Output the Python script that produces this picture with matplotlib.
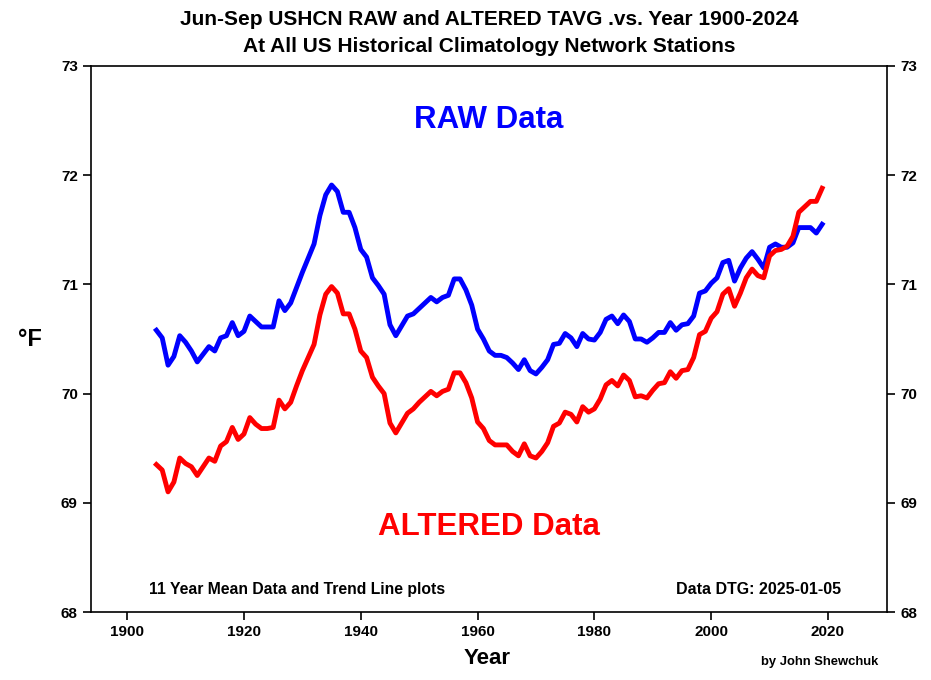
import numpy as np
import matplotlib
matplotlib.use("Agg")
import matplotlib.pyplot as plt

plt.rcParams['font.family'] = ['Liberation Sans', 'DejaVu Sans']
plt.rcParams['font.weight'] = 'bold'

# 11-year running means, one value per year 1905-2019
years = np.arange(1905, 2020)

raw_tavg = [
    70.58, 70.51, 70.26, 70.34, 70.53,                                  # 1905-1909
    70.47, 70.39, 70.29, 70.36, 70.43, 70.39, 70.51, 70.53, 70.65, 70.53,  # 1910s
    70.57, 70.71, 70.66, 70.61, 70.61, 70.61, 70.85, 70.76, 70.83, 70.97,  # 1920s
    71.11, 71.24, 71.37, 71.63, 71.82, 71.91, 71.85, 71.66, 71.66, 71.52,  # 1930s
    71.32, 71.25, 71.06, 70.99, 70.91, 70.63, 70.53, 70.62, 70.71, 70.73,  # 1940s
    70.78, 70.83, 70.88, 70.84, 70.88, 70.90, 71.05, 71.05, 70.95, 70.81,  # 1950s
    70.59, 70.50, 70.39, 70.35, 70.35, 70.33, 70.28, 70.22, 70.31, 70.21,  # 1960s
    70.18, 70.24, 70.31, 70.45, 70.46, 70.55, 70.51, 70.43, 70.55, 70.50,  # 1970s
    70.49, 70.56, 70.68, 70.71, 70.64, 70.72, 70.66, 70.50, 70.50, 70.47,  # 1980s
    70.51, 70.56, 70.56, 70.65, 70.58, 70.63, 70.64, 70.71, 70.92, 70.94,  # 1990s
    71.01, 71.06, 71.20, 71.22, 71.03, 71.15, 71.24, 71.30, 71.23, 71.15,  # 2000s
    71.34, 71.37, 71.34, 71.34, 71.38, 71.52, 71.52, 71.52, 71.47, 71.55,  # 2010s
]

altered_tavg = [
    69.35, 69.30, 69.10, 69.19, 69.41,                                  # 1905-1909
    69.36, 69.33, 69.25, 69.33, 69.41, 69.38, 69.52, 69.56, 69.69, 69.58,  # 1910s
    69.63, 69.78, 69.72, 69.68, 69.68, 69.69, 69.94, 69.86, 69.92, 70.07,  # 1920s
    70.21, 70.33, 70.45, 70.72, 70.91, 70.98, 70.92, 70.73, 70.73, 70.59,  # 1930s
    70.39, 70.33, 70.15, 70.07, 70.00, 69.73, 69.64, 69.73, 69.82, 69.86,  # 1940s
    69.92, 69.97, 70.02, 69.98, 70.02, 70.04, 70.19, 70.19, 70.10, 69.96,  # 1950s
    69.74, 69.68, 69.57, 69.53, 69.53, 69.53, 69.47, 69.43, 69.54, 69.43,  # 1960s
    69.41, 69.47, 69.55, 69.70, 69.73, 69.83, 69.81, 69.74, 69.88, 69.83,  # 1970s
    69.86, 69.95, 70.08, 70.12, 70.07, 70.17, 70.12, 69.97, 69.98, 69.96,  # 1980s
    70.03, 70.09, 70.10, 70.20, 70.14, 70.21, 70.22, 70.33, 70.54, 70.57,  # 1990s
    70.69, 70.75, 70.91, 70.96, 70.80, 70.92, 71.06, 71.14, 71.08, 71.06,  # 2000s
    71.26, 71.31, 71.32, 71.35, 71.44, 71.66, 71.71, 71.76, 71.76, 71.88,  # 2010s
]

x_ticks = [1900, 1920, 1940, 1960, 1980, 2000, 2020]
y_ticks = [68, 69, 70, 71, 72, 73]

fig = plt.figure(figsize=(9.31, 6.8), dpi=100)
ax = fig.add_axes([0.0977, 0.1, 0.855, 0.803])

ax.plot(years, raw_tavg, color='#0000ff', lw=3.5, solid_joinstyle='round')
ax.plot(years, altered_tavg, color='#ff0000', lw=3.5, solid_joinstyle='round')

ax.set_xlim(1893.8, 2030.1)
ax.set_ylim(68, 73)
ax.set_xticks(x_ticks)
ax.set_yticks(y_ticks)
ax.tick_params(direction='out', length=6, width=1.2, labelsize=11,
               right=True, labelright=True)
for lab in ax.get_xticklabels() + ax.get_yticklabels():
    lab.set_fontweight('bold')
for sp in ax.spines.values():
    sp.set_linewidth(1.2)

ax.text(0.5, 0.901, 'RAW Data', transform=ax.transAxes, color='#0000ff',
        fontsize=22.5, fontweight='bold', ha='center', va='center')
ax.text(0.5, 0.156, 'ALTERED Data', transform=ax.transAxes, color='#ff0000',
        fontsize=22.5, fontweight='bold', ha='center', va='center')
ax.text(0.073, 0.042, '11 Year Mean Data and Trend Line plots',
        transform=ax.transAxes, fontsize=11.3, fontweight='bold',
        ha='left', va='center')
ax.text(0.942, 0.042, 'Data DTG: 2025-01-05', transform=ax.transAxes,
        fontsize=11.5, fontweight='bold', ha='right', va='center')

fig.text(0.525, 0.971, 'Jun-Sep USHCN RAW and ALTERED TAVG .vs. Year 1900-2024',
         fontsize=15, fontweight='bold', ha='center', va='center')
fig.text(0.525, 0.931, 'At All US Historical Climatology Network Stations',
         fontsize=15, fontweight='bold', ha='center', va='center')
fig.text(0.032, 0.5, '°F', fontsize=17, fontweight='bold', ha='center', va='center')
fig.text(0.523, 0.032, 'Year', fontsize=16, fontweight='bold', ha='center', va='center')
fig.text(0.943, 0.026, 'by John Shewchuk', fontsize=9.4, fontweight='bold',
         ha='right', va='center')

fig.savefig('out.png', dpi=100)
